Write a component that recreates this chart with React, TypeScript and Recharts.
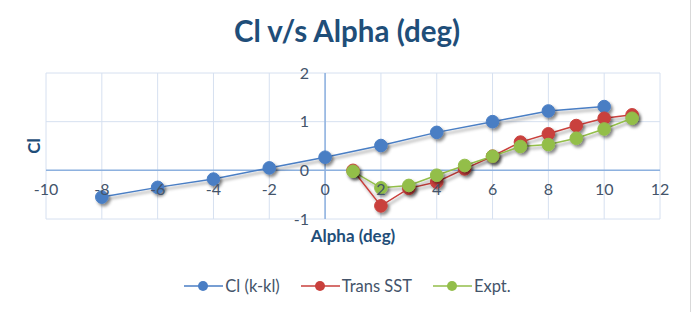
import React from 'react';
import {
  LineChart,
  Line,
  XAxis,
  YAxis,
  CartesianGrid,
  ReferenceLine,
  ReferenceDot,
  Legend,
} from 'recharts';

const alphaKkl = [-8, -6, -4, -2, 0, 2, 4, 6, 8, 10];
const clKkl = [-0.55, -0.35, -0.18, 0.05, 0.27, 0.51, 0.78, 1.0, 1.22, 1.31];

const alphaSst = [1, 2, 3, 4, 5, 6, 7, 8, 9, 10, 11];
const clSst = [0, -0.73, -0.37, -0.24, 0.03, 0.29, 0.58, 0.75, 0.92, 1.07, 1.14];

const alphaExpt = [1, 2, 3, 4, 5, 6, 7, 8, 9, 10, 11];
const clExpt = [-0.02, -0.36, -0.31, -0.1, 0.1, 0.29, 0.49, 0.53, 0.66, 0.85, 1.07];

const xTicks = [-10, -8, -6, -4, -2, 0, 2, 4, 6, 8, 10, 12];
const yTicks = [-1, 0, 1, 2];

const seriesNames = ['Cl (k-kl)', 'Trans SST', 'Expt.'];
const seriesColors = ['#4A7EC4', '#C9403C', '#93BE4A'];

const zip = (xs: number[], ys: number[]) => xs.map((x, i) => ({ x, y: ys[i] }));

const series = [
  { name: seriesNames[0], color: seriesColors[0], data: zip(alphaKkl, clKkl) },
  { name: seriesNames[1], color: seriesColors[1], data: zip(alphaSst, clSst) },
  { name: seriesNames[2], color: seriesColors[2], data: zip(alphaExpt, clExpt) },
];

const FONT = 'Lato, "Noto Sans", sans-serif';
const TICK_COLOR = '#44546A';
const TITLE_COLOR = '#1F4E79';

const LegendContent = () => (
  <div
    style={{
      display: 'flex',
      justifyContent: 'center',
      gap: 21,
      fontFamily: FONT,
      fontSize: 16.5,
      color: TICK_COLOR,
      paddingLeft: 1,
    }}
  >
    {series.map((s) => (
      <div key={s.name} style={{ display: 'flex', alignItems: 'center' }}>
        <svg width={39} height={14}>
          <line x1={0} y1={7} x2={39} y2={7} stroke={s.color} strokeWidth={1.5} />
          <circle cx={19} cy={7} r={5} fill={s.color} />
        </svg>
        <span style={{ marginLeft: 2 }}>{s.name}</span>
      </div>
    ))}
  </div>
);

export default function App() {
  return (
    <div style={{ position: 'relative', width: 694, height: 312, background: '#fff' }}>
      <style>{`body{margin:0;}`}</style>
      <svg width={0} height={0} style={{ position: 'absolute' }}>
        <defs>
          <filter id="shadow" x="-50%" y="-50%" width="200%" height="200%">
            <feDropShadow dx={2} dy={2.5} stdDeviation={1.6} floodColor="#000" floodOpacity={0.45} />
          </filter>
        </defs>
      </svg>
      <div
        style={{
          position: 'absolute',
          left: 0,
          top: 12,
          width: 694,
          textAlign: 'center',
          fontFamily: FONT,
          fontWeight: 700,
          fontSize: 29.5,
          lineHeight: '38px',
          color: TITLE_COLOR,
          paddingLeft: 0,
        }}
      >
        Cl v/s Alpha (deg)
      </div>
      <div
        style={{
          position: 'absolute',
          left: 690,
          top: 0,
          width: 1,
          height: 312,
          background: '#D9D9D9',
        }}
      />
      <div style={{ position: 'absolute', left: 0, top: 0 }}>
        <LineChart
          width={694}
          height={312}
          margin={{ top: 73, right: 34, bottom: 93, left: 46 }}
        >
          <CartesianGrid stroke="#D6E0F0" strokeWidth={1} />
          <XAxis
            type="number"
            dataKey="x"
            domain={[-10, 12]}
            ticks={xTicks}
            hide
            allowDuplicatedCategory={false}
          />
          <YAxis type="number" domain={[-1, 2]} ticks={yTicks} hide />
          <ReferenceLine y={0} stroke="#8DB1DF" strokeWidth={1.5} />
          <ReferenceLine x={0} stroke="#8DB1DF" strokeWidth={1.5} />
          {xTicks.map((t) => (
            <ReferenceDot
              key={'x' + t}
              x={t}
              y={0}
              r={1}
              fill="none"
              stroke="none"
              label={{
                value: String(t),
                position: 'bottom',
                offset: 12,
                fill: TICK_COLOR,
                fontSize: 16,
                fontFamily: FONT,
              }}
            />
          ))}
          {yTicks.map((t) => (
            <ReferenceDot
              key={'y' + t}
              x={0}
              y={t}
              r={1}
              fill="none"
              stroke="none"
              label={{
                value: String(t),
                position: 'left',
                offset: 15,
                fill: TICK_COLOR,
                fontSize: 16,
                fontFamily: FONT,
              }}
            />
          ))}
          {series.map((s) => (
            <Line
              key={s.name}
              data={s.data}
              dataKey="y"
              name={s.name}
              type="linear"
              stroke={s.color}
              strokeWidth={1.5}
              filter="url(#shadow)"
              dot={{ r: 6.3, fill: s.color, stroke: s.color, strokeWidth: 1 }}
              activeDot={false}
              isAnimationActive={false}
            />
          ))}
          <Legend
            layout="horizontal"
            verticalAlign="middle"
            align="center"
            content={<LegendContent />}
            wrapperStyle={{ position: 'absolute', top: 276, left: 0, width: 694 }}
          />
        </LineChart>
      </div>
      <div
        style={{
          position: 'absolute',
          left: 33,
          top: 146,
          transform: 'translate(-50%, -50%) rotate(-90deg)',
          fontFamily: FONT,
          fontWeight: 700,
          fontSize: 17,
          color: TITLE_COLOR,
        }}
      >
        Cl
      </div>
      <div
        style={{
          position: 'absolute',
          left: 353,
          top: 235,
          transform: 'translate(-50%, -50%)',
          fontFamily: FONT,
          fontWeight: 700,
          fontSize: 17,
          color: TITLE_COLOR,
          whiteSpace: 'nowrap',
        }}
      >
        Alpha (deg)
      </div>
    </div>
  );
}
